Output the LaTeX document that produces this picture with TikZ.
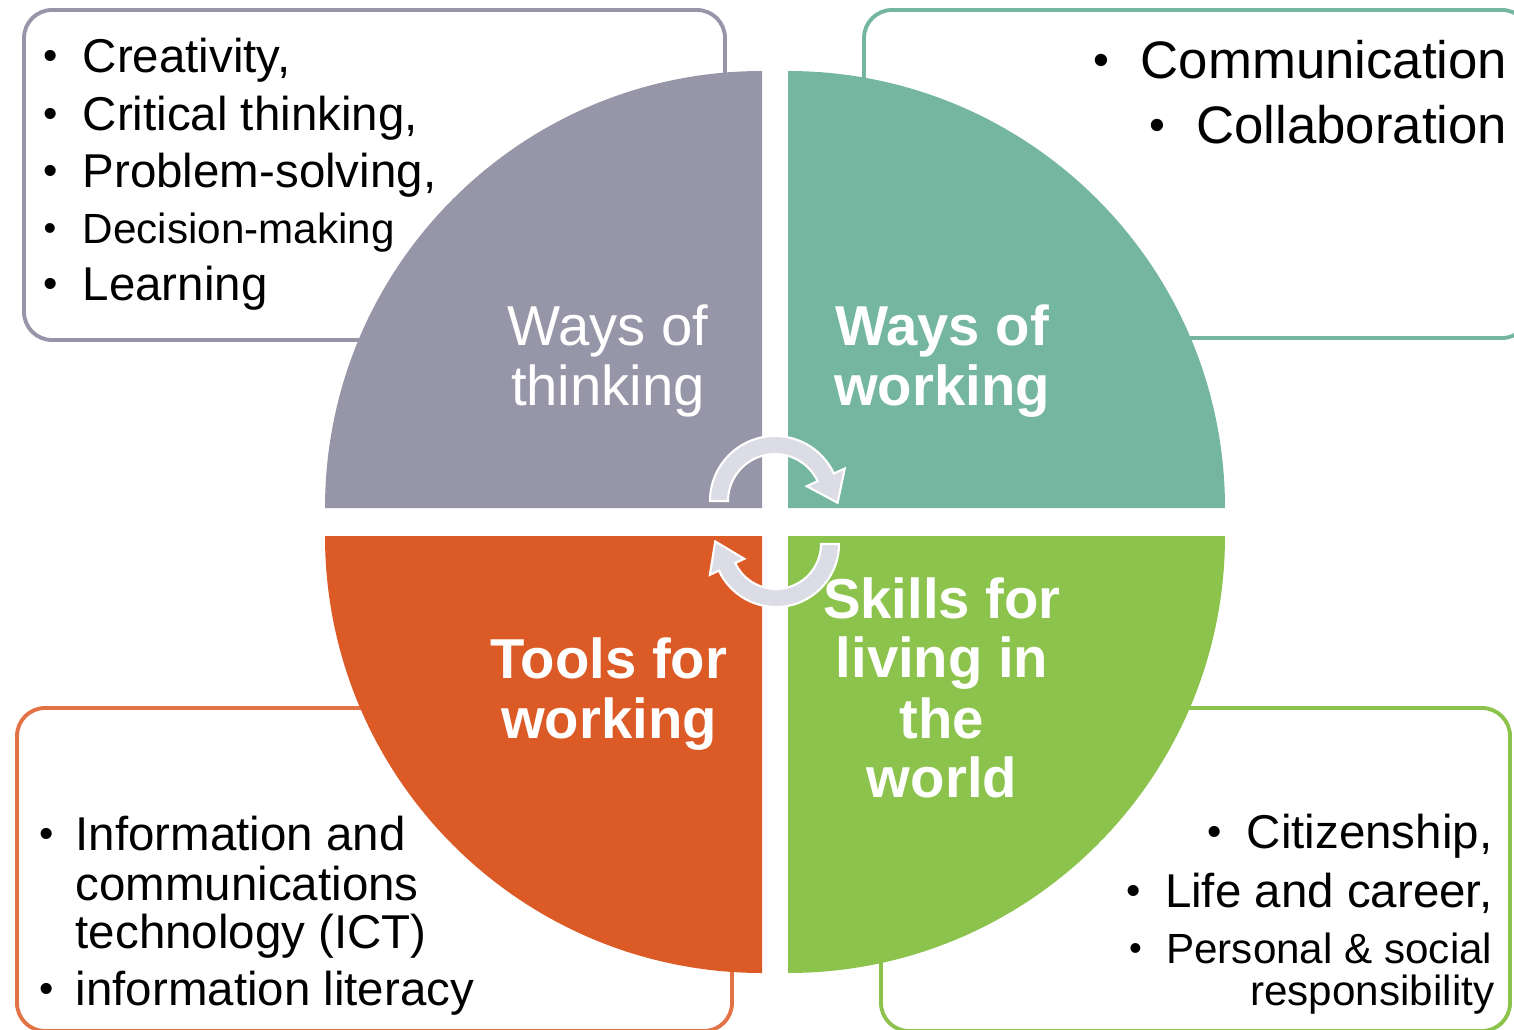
\documentclass[tikz,border=0pt]{standalone}
\usepackage{graphicx}
\usepackage{fontspec}
\setmainfont{Liberation Sans}
\definecolor{thinkGray}{RGB}{150,150,168}
\definecolor{workTeal}{RGB}{116,182,160}
\definecolor{toolsOrange}{RGB}{220,90,37}
\definecolor{skillsGreen}{RGB}{139,195,76}
\definecolor{cycleGray}{RGB}{220,220,230}
\newcommand{\bul}[1][0.39cm]{\makebox[#1][l]{\raisebox{0.05em}{\scalebox{0.86}{\textbullet}}}}
\tikzstyle{listBox}=[rounded corners = 0.28cm, line width = 1.1pt, fill = white]
\tikzstyle{listText}=[anchor = base west, inner sep = 0pt, font = \fontsize{13.5}{16}\selectfont]
\tikzstyle{listTextRight}=[listText, anchor = base east]
\tikzstyle{quadText}=[anchor = base, inner sep = 0pt, text = white, font = \fontsize{16}{17}\selectfont]
\tikzstyle{quadTextBold}=[quadText, font = \fontsize{16}{17}\selectfont\bfseries]
\tikzstyle{cycleArrow}=[fill = cycleGray, draw = white, line width = 0.6pt, line join = miter]

\begin{document}
\begin{tikzpicture}[x = 0.01cm, y = 0.01cm]
\useasboundingbox (0,0) rectangle (1514,1029);
\draw[listBox, draw = thinkGray] (24,1019) rectangle (725,689);
\draw[listBox, draw = workTeal] (864,1019) rectangle (1530,691);
\draw[listBox, draw = toolsOrange!85] (17,321) rectangle (732,-2);
\draw[listBox, draw = skillsGreen] (881,321) rectangle (1510,-2);
\coordinate (thinkC) at (762,521);
\coordinate (workC) at (788,521);
\coordinate (toolsC) at (762,493);
\coordinate (skillsC) at (788,493);
\fill[thinkGray] (thinkC) -- ++(-437,0) arc[start angle = 180, end angle = 90, radius = 437] -- cycle;
\fill[workTeal] (workC) -- ++(0,437) arc[start angle = 90, end angle = 0, radius = 437] -- cycle;
\fill[toolsOrange] (toolsC) -- ++(-437,0) arc[start angle = 180, end angle = 270, radius = 437] -- cycle;
\fill[skillsGreen] (skillsC) -- ++(437,0) arc[start angle = 0, end angle = -90, radius = 437] -- cycle;
\coordinate (upC) at (775,528);
\coordinate (loC) at (776,485);
\begin{scope}[shift = {(upC)}]
\filldraw[cycleArrow] (180:65) arc[start angle = 180, end angle = 25, radius = 65] -- (25:77) -- (-1.6:62.6) -- (25:35) -- (25:47) arc[start angle = 25, end angle = 180, radius = 47] -- cycle;
\end{scope}
\begin{scope}[shift = {(loC)}]
\filldraw[cycleArrow] (0:63) arc[start angle = 0, end angle = -155, radius = 63] -- (-155:73) -- (177.6:60.8) -- (-155:35) -- (-155:45) arc[start angle = -155, end angle = 0, radius = 45] -- cycle;
\end{scope}
\node[quadText] (thinkA) at (608,684) {Ways of};
\node[quadText] (thinkB) at (608,624) {thinking};
\node[quadTextBold] (workA) at (942,684) {Ways of};
\node[quadTextBold] (workB) at (942,624) {working};
\node[quadTextBold] (toolsA) at (609,351) {Tools for};
\node[quadTextBold] (toolsB) at (609,291) {working};
\node[quadTextBold] (skillsA) at (942,411) {Skills for};
\node[quadTextBold] (skillsB) at (942,352) {living in};
\node[quadTextBold] (skillsC) at (942,291) {the};
\node[quadTextBold] (skillsD) at (942,232) {world};
\node[listText] (tl1) at (43,957) {\bul Creativity,};
\node[listText] (tl2) at (43,899) {\bul Critical thinking,};
\node[listText] (tl3) at (43,842) {\bul Problem-solving,};
\node[listText, font = \fontsize{12}{14}\selectfont] (tl4) at (43,786) {\bul Decision-making};
\node[listText] (tl5) at (43,729) {\bul Learning};
\node[listTextRight, font = \fontsize{15}{18}\selectfont] (tr1) at (1508,951) {\bul[0.47cm]Communication};
\node[listTextRight, font = \fontsize{15}{18}\selectfont] (tr2) at (1508,886) {\bul[0.47cm]Collaboration};
\node[listText] (bl1) at (39,179) {\bul[0.36cm]Information and};
\node[listText] (bl2) at (75,129) {communications};
\node[listText] (bl3) at (75,81) {technology (ICT)};
\node[listText] (bl4) at (39,24) {\bul[0.36cm]information literacy};
\node[listTextRight] (br1) at (1493,181) {\bul Citizenship,};
\node[listTextRight] (br2) at (1493,122) {\bul Life and career,};
\node[listTextRight, font = \fontsize{12}{14}\selectfont] (br3) at (1493,66) {\bul[0.37cm]Personal \& social};
\node[listTextRight, font = \fontsize{12}{14}\selectfont] (br4) at (1495,24) {responsibility};
\end{tikzpicture}
\end{document}
